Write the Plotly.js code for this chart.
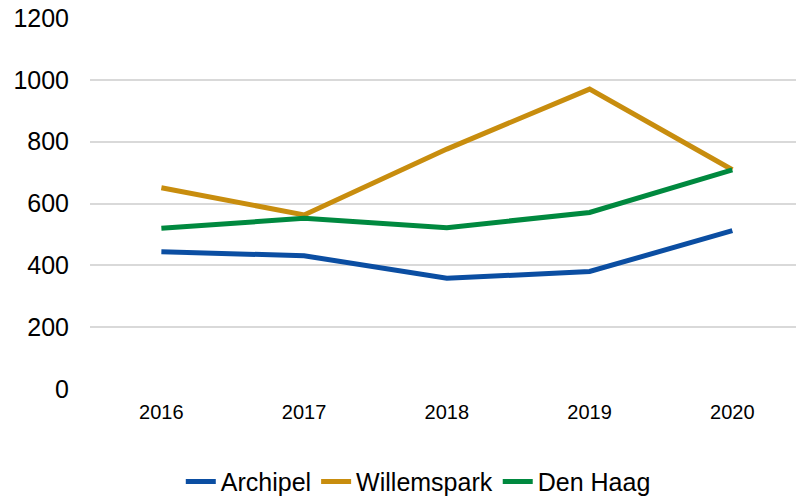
<!DOCTYPE html>
<html>
<head>
<meta charset="utf-8">
<script src="https://cdn.plot.ly/plotly-3.0.1.min.js"></script>
<style>html,body{margin:0;padding:0;background:#fff;}#chart{width:796px;height:501px;}</style>
</head>
<body>
<div id="chart"></div>
<script>
const years = ['2016', '2017', '2018', '2019', '2020'];
const archipel = [444, 431, 358, 380, 512];
const willemspark = [651, 563, 776, 970, 709];
const denHaag = [520, 552, 522, 571, 709];
const yTicks = [0, 200, 400, 600, 800, 1000, 1200];

const mk = (name, y, color) => ({
  x: years, y: y, name: name, type: 'scatter', mode: 'lines',
  line: {color: color, width: 5}, hoverinfo: 'skip'
});

const data = [
  mk('Archipel', archipel, '#0B4EA2'),
  mk('Willemspark', willemspark, '#C88D0E'),
  mk('Den Haag', denHaag, '#00893F')
];

const layout = {
  width: 796, height: 501,
  margin: {l: 90, r: 0, t: 18, b: 112, autoexpand: false},
  paper_bgcolor: '#fff', plot_bgcolor: '#fff',
  font: {family: 'Liberation Sans, Arial, sans-serif', color: '#000'},
  showlegend: true,
  legend: {orientation: 'h', x: 0.465, xanchor: 'center', y: -0.312, yanchor: 'bottom',
           font: {size: 25, color: '#000'}, itemwidth: 30, traceorder: 'normal'},
  xaxis: {type: 'category', range: [-0.5, 4.446], showgrid: false, zeroline: false,
          showline: false, ticks: '', tickfont: {size: 20}, ticklabelstandoff: 9, fixedrange: true},
  yaxis: {range: [0, 1200], tickvals: yTicks, ticktext: yTicks.map(String), showgrid: true,
          gridcolor: '#D9D9D9', gridwidth: 2, zeroline: false, showline: false, ticks: '',
          tickfont: {size: 25}, ticklabelstandoff: 20, fixedrange: true}
};

Plotly.newPlot('chart', data, layout, {displayModeBar: false, staticPlot: true});
</script>
</body>
</html>
